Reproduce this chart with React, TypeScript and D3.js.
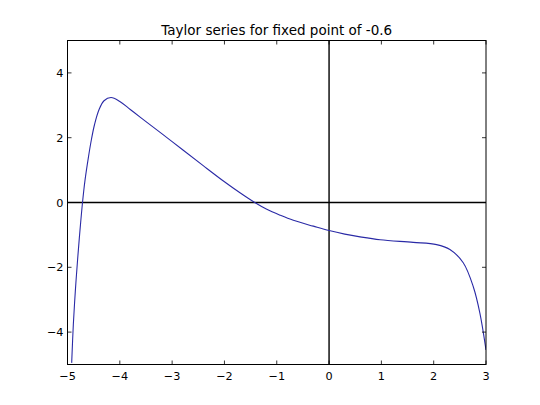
import React from "react";
import * as d3 from "d3";

const xs = [-4.92, -4.889, -4.851, -4.805, -4.761, -4.713, -4.665, -4.599, -4.541, -4.484, -4.398, -4.302, -4.168, -4.0, -3.8, -3.6, -3.0, -2.4, -2.0, -1.703, -1.42, -1.2, -0.937, -0.683, -0.3, 0, 0.3, 0.593, 0.976, 1.608, 2.055, 2.31, 2.565, 2.757, 2.884, 3.0];
const ys = [-4.95, -3.78, -2.75, -1.72, -0.85, 0, 0.69, 1.41, 1.96, 2.4, 2.86, 3.14, 3.24, 3.12, 2.87, 2.62, 1.88, 1.13, 0.64, 0.3, 0, -0.2, -0.39, -0.55, -0.73, -0.865, -0.975, -1.06, -1.15, -1.23, -1.3, -1.45, -1.86, -2.6, -3.42, -4.55];
const xTicks = [-5, -4, -3, -2, -1, 0, 1, 2, 3];
const yTicks = [-4, -2, 0, 2, 4];
const title = "Taylor series for fixed point of -0.6";

const W = 540, H = 405;
const L = 67.5, R = 486, T = 40.5, B = 364.5;
const FONT = "DejaVu Sans, sans-serif";

const fmt = (v: number) => (v < 0 ? "\u2212" + Math.abs(v) : String(v));

export default function App() {
  const x = d3.scaleLinear().domain([-5, 3]).range([L, R]);
  const y = d3.scaleLinear().domain([-5, 5]).range([B, T]);
  const pts: [number, number][] = xs.map((v, i) => [v, ys[i]]);
  const line = d3
    .line<[number, number]>()
    .x((d) => x(d[0]))
    .y((d) => y(d[1]))
    .curve(d3.curveCatmullRom.alpha(0.5));
  const tl = 4;
  return (
    <div style={{ position: "absolute", left: 0, top: 0 }}>
      <svg width={W} height={H} style={{ display: "block", background: "#fff" }}>
        <defs>
          <clipPath id="pa">
            <rect x={L} y={T} width={R - L} height={B - T} />
          </clipPath>
        </defs>
        <rect x={0} y={0} width={W} height={H} fill="#fff" />
        <g clipPath="url(#pa)">
          <line x1={L} x2={R} y1={y(0)} y2={y(0)} stroke="#000" strokeWidth={1.4} />
          <line x1={x(0)} x2={x(0)} y1={T} y2={B} stroke="#000" strokeWidth={1.4} />
          <path d={line(pts) || ""} fill="none" stroke="#2a2aa6" strokeWidth={1.1} />
        </g>
        <rect x={L} y={T} width={R - L} height={B - T} fill="none" stroke="#000" strokeWidth={1} />
        {xTicks.map((t) => (
          <g key={"x" + t}>
            <line x1={x(t)} x2={x(t)} y1={B} y2={B - tl} stroke="#000" strokeWidth={0.8} />
            <line x1={x(t)} x2={x(t)} y1={T} y2={T + tl} stroke="#000" strokeWidth={0.8} />
            <text x={x(t)} y={B + 15} textAnchor="middle" fontFamily={FONT} fontSize={11.25} fill="#000">
              {fmt(t)}
            </text>
          </g>
        ))}
        {yTicks.map((t) => (
          <g key={"y" + t}>
            <line x1={L} x2={L + tl} y1={y(t)} y2={y(t)} stroke="#000" strokeWidth={0.8} />
            <line x1={R} x2={R - tl} y1={y(t)} y2={y(t)} stroke="#000" strokeWidth={0.8} />
            <text x={L - 4} y={y(t)} dy="0.36em" textAnchor="end" fontFamily={FONT} fontSize={11.25} fill="#000">
              {fmt(t)}
            </text>
          </g>
        ))}
        <text x={(L + R) / 2} y={T - 6} textAnchor="middle" fontFamily={FONT} fontSize={13.5} fill="#000">
          {title}
        </text>
      </svg>
    </div>
  );
}
